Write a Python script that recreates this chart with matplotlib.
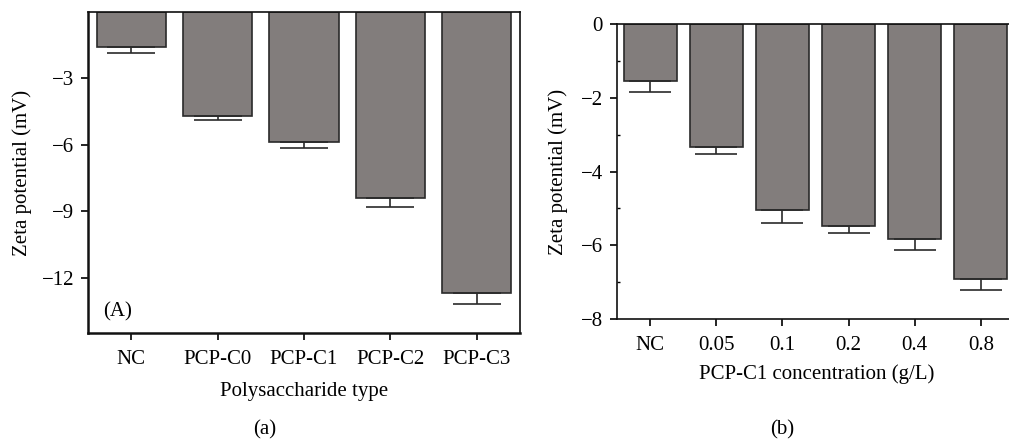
import matplotlib
matplotlib.use("Agg")
import numpy as np
import matplotlib.pyplot as plt
from matplotlib.ticker import MultipleLocator

plt.rcParams["font.family"] = ["Liberation Serif", "DejaVu Serif"]
plt.rcParams["font.size"] = 15

# panel (a): polysaccharide type
types_a = ["NC", "PCP-C0", "PCP-C1", "PCP-C2", "PCP-C3"]
zeta_a = [-1.56, -4.70, -5.85, -8.38, -12.70]
err_a = [0.30, 0.16, 0.29, 0.45, 0.50]

# panel (b): PCP-C1 concentration
conc_b = ["NC", "0.05", "0.1", "0.2", "0.4", "0.8"]
zeta_b = [-1.54, -3.33, -5.04, -5.49, -5.84, -6.92]
err_b = [0.30, 0.19, 0.37, 0.18, 0.30, 0.28]

bar_color = "#827d7c"
edge_color = "#2a2a2a"

W, H = 1009, 440
fig = plt.figure(figsize=(W / 100, H / 100), dpi=100)


def px_axes(left, right, top, bottom):
    return fig.add_axes([left / W, 1 - bottom / H, (right - left) / W, (bottom - top) / H])


def draw(ax, cats, vals, errs, capsize):
    x = np.arange(len(cats))
    ax.bar(x, vals, width=0.8, color=bar_color, edgecolor=edge_color, linewidth=1.2, zorder=2)
    ax.errorbar(x, vals, yerr=[errs, [0] * len(errs)], fmt="none", ecolor=edge_color,
                elinewidth=1.2, capsize=capsize, capthick=1.2, zorder=3)
    ax.set_xlim(-0.5, len(cats) - 0.5)
    ax.set_xticks(x)
    ax.set_xticklabels(cats)
    ax.tick_params(axis="both", which="major", direction="out", length=5, width=1.2, pad=5)
    ax.tick_params(axis="x", pad=7)
    for sp in ax.spines.values():
        sp.set_linewidth(1.2)
        sp.set_color("#111111")


# (a)
ax1 = px_axes(88, 520, 12, 333)
draw(ax1, types_a, zeta_a, err_a, 17)
ax1.set_ylim(-14.5, 0)
ax1.set_yticks([-3, -6, -9, -12])
ax1.spines["left"].set_linewidth(1.8)
ax1.spines["bottom"].set_linewidth(1.8)
ax1.set_ylabel("Zeta potential (mV)")
ax1.set_xlabel("Polysaccharide type")
ax1.yaxis.set_label_coords(-0.13, 0.5)
ax1.xaxis.set_label_coords(0.5, -0.153)
ax1.text(0.035, 0.065, "(A)", transform=ax1.transAxes, ha="left", va="center")

# (b)
ax2 = px_axes(617, 1014, 24, 319)
draw(ax2, conc_b, zeta_b, err_b, 15)
ax2.set_ylim(-8, 0)
ax2.set_yticks([0, -2, -4, -6, -8])
ax2.yaxis.set_minor_locator(MultipleLocator(1))
ax2.tick_params(axis="y", which="minor", direction="in", length=2.5, width=1)
ax2.spines["right"].set_visible(False)
ax2.set_ylabel("Zeta potential (mV)")
ax2.set_xlabel("PCP-C1 concentration (g/L)")
ax2.yaxis.set_label_coords(-0.123, 0.5)
ax2.xaxis.set_label_coords(0.503, -0.153)

fig.text(265 / W, 1 - 430 / H, "(a)", ha="center", va="center")
fig.text(782 / W, 1 - 430 / H, "(b)", ha="center", va="center")

fig.savefig("out.png", dpi=100)
